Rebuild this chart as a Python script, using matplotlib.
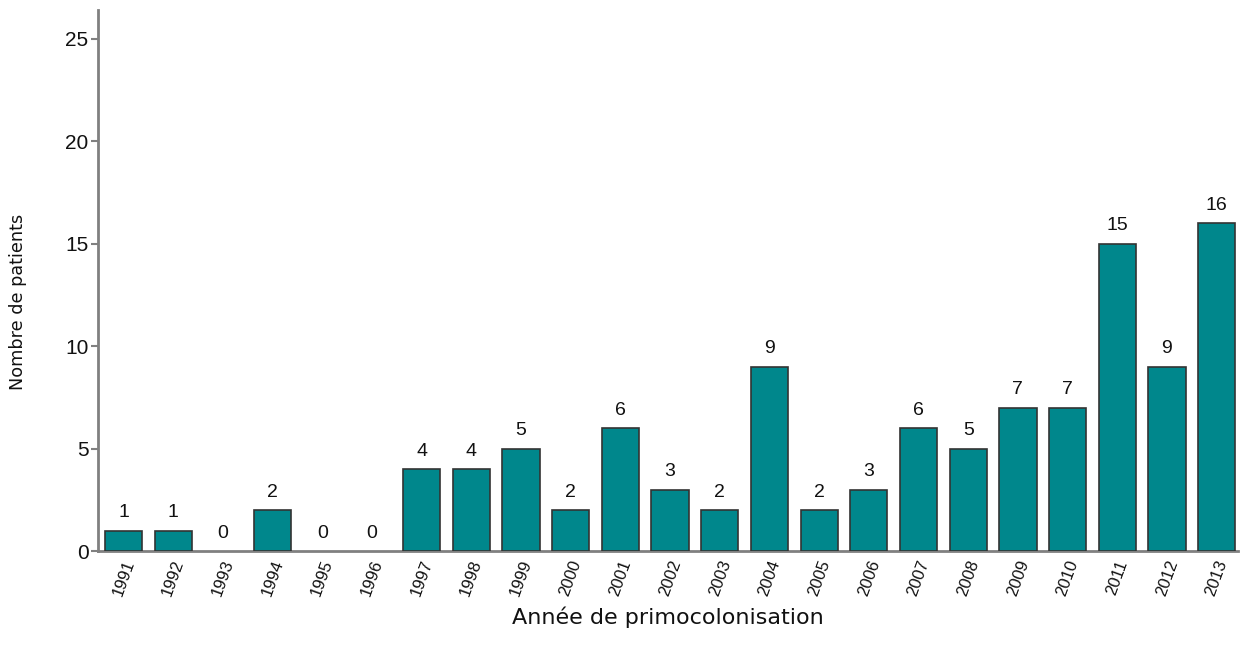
import matplotlib.pyplot as plt

# Data
years = [str(y) for y in range(1991, 2014)]
patients = [1, 1, 0, 2, 0, 0, 4, 4, 5, 2, 6, 3, 2, 9, 2, 3, 6, 5, 7, 7, 15, 9, 16]
y_ticks = [0, 5, 10, 15, 20, 25]

plt.rcParams["font.family"] = ["Liberation Sans", "DejaVu Sans"]

fig = plt.figure(figsize=(12.43, 6.56), dpi=100)
ax = fig.add_axes([0.079, 0.160, 0.917, 0.825])

x = range(len(years))
# zero-height bars get no outline, as in the original
lw = [1.2 if v > 0 else 0 for v in patients]
ax.bar(x, patients, width=0.75, color="#00878c", edgecolor="#333333", linewidth=lw, zorder=3)

# Value labels above the bars
for i, v in enumerate(patients):
    ax.text(i, v + 0.45, str(v), ha="center", va="bottom", fontsize=14, color="#111111")

ax.set_xlim(-0.51, 22.43)
ax.set_ylim(0, 26.4)
ax.set_yticks(y_ticks)
ax.set_xticks(list(x))
ax.set_xticklabels(years, rotation=70, fontsize=12, ha="center", va="top")
ax.tick_params(axis="y", labelsize=15, length=5, color="#808080", width=1.5, pad=2, labelcolor="#111111")
ax.tick_params(axis="x", length=0, pad=5, labelcolor="#111111")

ax.spines[["top", "right"]].set_visible(False)
ax.spines["left"].set_color("#808080")
ax.spines["bottom"].set_color("#808080")
ax.spines["left"].set_linewidth(2)
ax.spines["bottom"].set_linewidth(2)

ax.set_ylabel("Nombre de patients", fontsize=12.7, family="DejaVu Sans", labelpad=26, color="#111111")
ax.yaxis.set_label_coords(-0.0625, 0.46)
ax.set_xlabel("Année de primocolonisation", fontsize=16, family="DejaVu Sans", labelpad=6, color="#111111")

plt.savefig("out.png", dpi=100)
